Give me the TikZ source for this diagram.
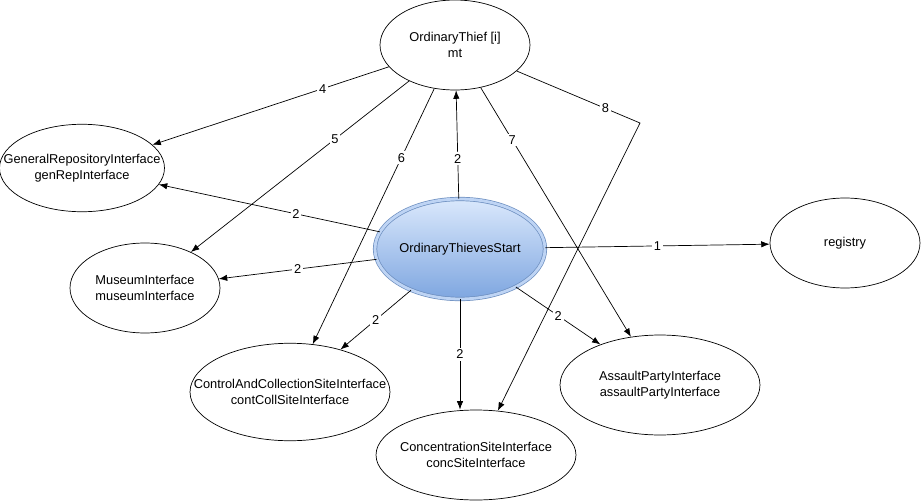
\documentclass[tikz,border=0pt]{standalone}
\usepackage{fontspec}
\setmainfont{Liberation Sans}
\usetikzlibrary{shapes,arrows.meta}
\definecolor{startdraw}{HTML}{6C8EBF}
\definecolor{starttop}{HTML}{DAE8FC}
\definecolor{startbot}{HTML}{7EA6E0}
\tikzset{
	-Latex, semithick,
	state/.style ={ellipse, draw, inner xsep=-1cm, inner ysep=0pt, align=center, font=\fontsize{7.3}{9}\selectfont},
	start/.style ={state, top color=starttop, bottom color=startbot, draw=startdraw, double=starttop!70!startbot, double distance=1.6pt},
	el/.style = {fill=white, inner sep=1pt, font=\fontsize{7.3}{9}\selectfont}
}
\begin{document}
\begin{tikzpicture}[x=0.02cm, y=-0.02cm]
    \useasboundingbox (0,0) rectangle (921,501);

    \node[state, minimum width=3cm, minimum height=1.8cm] (1) at (455,45) {OrdinaryThief [i]\\mt};
    \node[start, minimum width=3.4cm, minimum height=2cm] (2) at (460,249) {OrdinaryThievesStart};
    \node[state, minimum width=3.3cm, minimum height=1.75cm] (3) at (82,168) {GeneralRepositoryInterface\\genRepInterface};
    \node[state, minimum width=3cm, minimum height=1.8cm] (4) at (145,288) {MuseumInterface\\museumInterface};
    \node[state, minimum width=3cm, minimum height=1.8cm] (5) at (845,243) {registry};
    \node[state, minimum width=4cm, minimum height=1.95cm] (6) at (290,392) {ControlAndCollectionSiteInterface\\contCollSiteInterface};
    \node[state, minimum width=4cm, minimum height=1.8cm] (7) at (476,455) {ConcentrationSiteInterface\\concSiteInterface};
    \node[state, minimum width=4cm, minimum height=2cm] (8) at (660,385) {AssaultPartyInterface\\assaultPartyInterface};
    \coordinate (9) at (640,123);

    \path (1) edge node[el, pos=0.28] {4} (3);
    \path (1) edge node[el, pos=0.34] {5} (4);
    \path (1) edge node[el, pos=0.27] {6} (6);
    \path (1) edge node[el, pos=0.21] {7} (8);
    \draw (1) -- node[el, pos=0.72] {8} (9) -- (7);

    \path (2) edge node[el, pos=0.37] {2} (1);
    \path (2) edge node[el, pos=0.38] {2} (3);
    \path (2) edge node[el] {2} (4);
    \path (2) edge node[el] {1} (5);
    \path (2) edge node[el] {2} (6);
    \path (2.south) edge node[el] {2} (7.north -| 2.south);
    \path (2) edge node[el] {2} (8);

\end{tikzpicture}
\end{document}
